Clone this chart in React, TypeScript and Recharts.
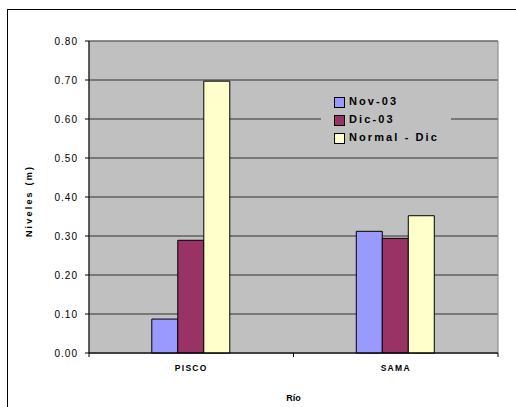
import { BarChart, Bar, XAxis, YAxis, CartesianGrid, Legend, ReferenceArea } from 'recharts';

// River levels (m)
const rivers = ['PISCO', 'SAMA'];
const nov03 = [0.087, 0.312];
const dic03 = [0.289, 0.294];
const normalDic = [0.697, 0.352];
const yTicks = [0, 0.1, 0.2, 0.3, 0.4, 0.5, 0.6, 0.7, 0.8];

const SERIES = [
  { key: 'nov', name: 'Nov-03', fill: '#9999FF' },
  { key: 'dic', name: 'Dic-03', fill: '#993366' },
  { key: 'normal', name: 'Normal - Dic', fill: '#FFFFCC' },
];

const data = rivers.map((river, i) => ({
  river,
  nov: nov03[i],
  dic: dic03[i],
  normal: normalDic[i],
}));

const FONT = 'Arial, "Liberation Sans", sans-serif';
const W = 516;
const H = 407;
const PLOT_LEFT = 89;
const PLOT_TOP = 41;
const PLOT_RIGHT = 498;
const PLOT_BOTTOM = 353;
const HALF_BAND = (PLOT_RIGHT - PLOT_LEFT) / rivers.length / 2;

const XTick = ({ x, payload, index }: any) => (
  <g>
    <line x1={x - HALF_BAND} x2={x - HALF_BAND} y1={PLOT_BOTTOM} y2={PLOT_BOTTOM + 4} stroke="#000" />
    {index === rivers.length - 1 && (
      <line x1={x + HALF_BAND} x2={x + HALF_BAND} y1={PLOT_BOTTOM} y2={PLOT_BOTTOM + 4} stroke="#000" />
    )}
    <text
      x={x}
      y={PLOT_BOTTOM + 18}
      textAnchor="middle"
      fontFamily={FONT}
      fontSize={8.5}
      fontWeight="bold"
      letterSpacing={1.3}
      fill="#000"
    >
      {payload.value}
    </text>
  </g>
);

const YTitle = ({ viewBox }: any) => {
  const cx = 29;
  const cy = viewBox.y + viewBox.height / 2 + 4;
  return (
    <text
      x={cx}
      y={cy}
      transform={`rotate(-90, ${cx}, ${cy})`}
      textAnchor="middle"
      dominantBaseline="central"
      fontFamily={FONT}
      fontSize={9}
      fontWeight="bold"
      letterSpacing={2.2}
      fill="#000"
    >
      Niveles (m)
    </text>
  );
};

const XTitle = ({ viewBox }: any) => (
  <text
    x={viewBox.x + viewBox.width / 2}
    y={H - 6}
    textAnchor="middle"
    fontFamily={FONT}
    fontSize={9}
    fontWeight="bold"
    fill="#000"
  >
    Río
  </text>
);

const LegendBox = () => (
  <div
    style={{
      background: '#C0C0C0',
      width: 130,
      height: 54,
      boxSizing: 'border-box',
      paddingLeft: 13,
      fontFamily: FONT,
      fontWeight: 'bold',
      fontSize: 11,
      letterSpacing: 2.1,
      color: '#000',
    }}
  >
    {SERIES.map(s => (
      <div key={s.key} style={{ display: 'flex', alignItems: 'center', height: 18 }}>
        <span
          style={{
            display: 'inline-block',
            width: 9,
            height: 9,
            background: s.fill,
            border: '1px solid #000',
            marginRight: 4,
            marginTop: 2,
          }}
        />
        <span>{s.name}</span>
      </div>
    ))}
  </div>
);

export default function App() {
  return (
    <div style={{ position: 'absolute', left: 0, top: 0, width: W, height: H, overflow: 'hidden', background: '#fff' }}>
      {/* outer chart frame, running off the right and bottom edges */}
      <div
        style={{
          position: 'absolute',
          left: 7,
          top: 9,
          width: W,
          height: H,
          borderLeft: '1px solid #000',
          borderTop: '1px solid #000',
        }}
      />
      <div style={{ position: 'absolute', left: 0, top: 0 }}>
        <BarChart
          width={W}
          height={H}
          data={data}
          margin={{ top: PLOT_TOP, right: W - PLOT_RIGHT, left: 0, bottom: 0 }}
          barCategoryGap="30.7%"
          barGap={0}
        >
          <CartesianGrid vertical={false} stroke="#303030" fill="#C0C0C0" fillOpacity={1} />
          <ReferenceArea y1={0} y2={0.8} fill="none" stroke="#808080" />
          <XAxis
            dataKey="river"
            height={H - PLOT_BOTTOM}
            axisLine={{ stroke: '#000' }}
            tickLine={false}
            tick={<XTick />}
            label={<XTitle />}
          />
          <YAxis
            width={PLOT_LEFT}
            domain={[0, 0.8]}
            ticks={yTicks}
            tickFormatter={(v: number) => v.toFixed(2)}
            axisLine={{ stroke: '#000' }}
            tickLine={{ stroke: '#000' }}
            tickSize={4}
            tickMargin={7}
            tick={{ fontSize: 10, fill: '#000', fontFamily: FONT, letterSpacing: 1 }}
            label={<YTitle />}
          />
          <Legend
            layout="vertical"
            align="center"
            verticalAlign="middle"
            content={<LegendBox />}
            wrapperStyle={{ position: 'absolute', left: 321, top: 92, width: 130, height: 54 }}
          />
          {SERIES.map(s => (
            <Bar
              key={s.key}
              dataKey={s.key}
              name={s.name}
              fill={s.fill}
              stroke="#000"
              strokeWidth={1}
              isAnimationActive={false}
            />
          ))}
        </BarChart>
      </div>
    </div>
  );
}
